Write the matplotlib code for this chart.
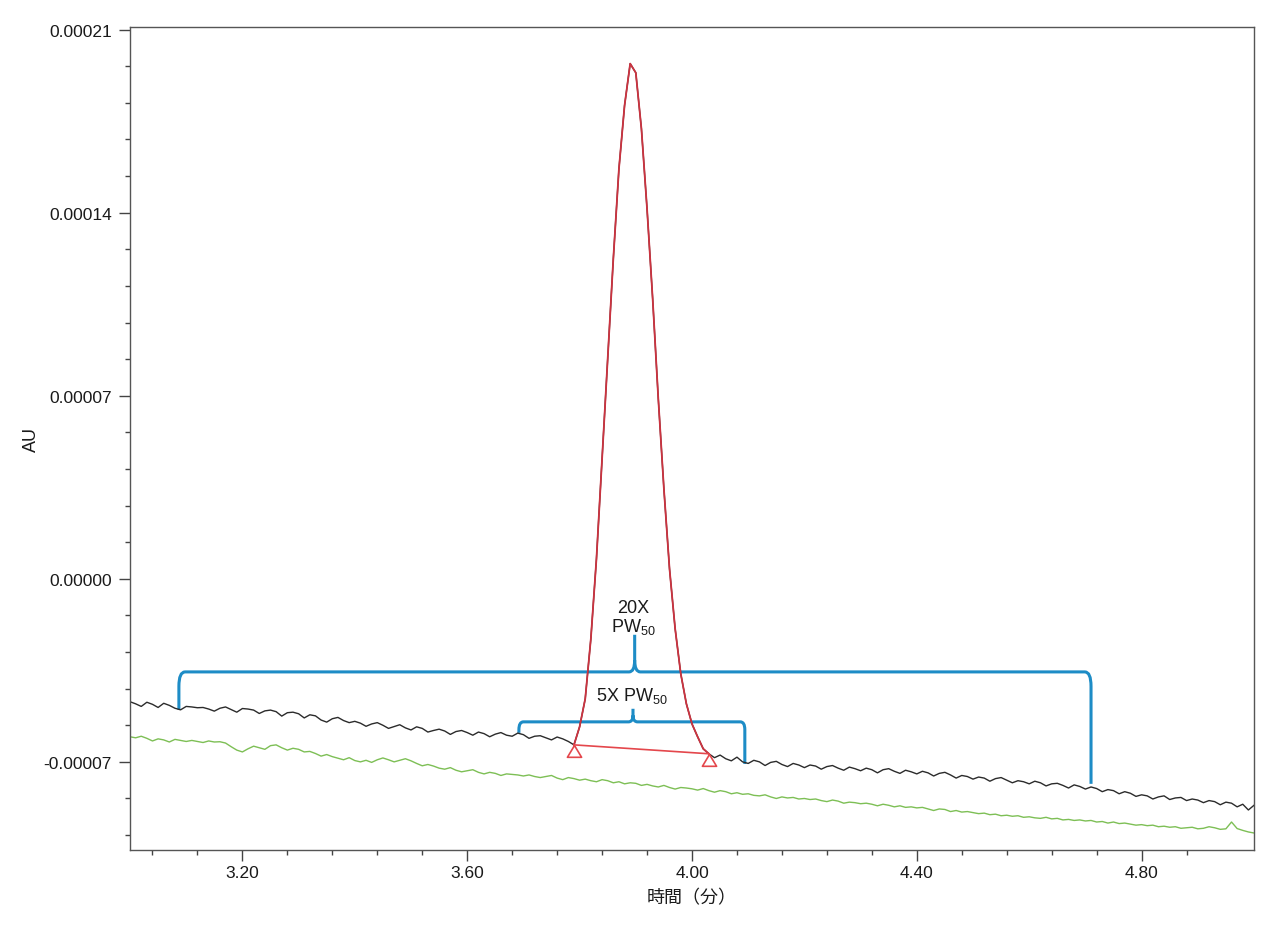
import numpy as np
import matplotlib
matplotlib.use("Agg")
import matplotlib.pyplot as plt
from matplotlib.path import Path
from matplotlib.patches import PathPatch
from matplotlib.ticker import MultipleLocator, FixedLocator, FormatStrFormatter

plt.rcParams['font.family'] = ['Liberation Sans', 'Noto Sans CJK JP', 'DejaVu Sans']
plt.rcParams['mathtext.fontset'] = 'custom'
plt.rcParams['mathtext.rm'] = 'Liberation Sans'
plt.rcParams['axes.unicode_minus'] = False

# Tiempo (min), muestreo cada 0.01 min de 3.00 a 5.00
tiempo = np.round(np.arange(201) * 0.01 + 3.00, 2)

# Señal de la muestra (unidades de 1e-5 AU); incluye el pico entre 3.79 y 4.03
muestra = [
    -4.70, -4.78, -4.88, -4.72, -4.80, -4.92, -4.76, -4.84, -4.95, -5.01,
    -4.88, -4.90, -4.93, -4.92, -4.98, -5.06, -4.95, -4.90, -5.00, -5.10,
    -4.96, -4.98, -5.02, -5.15, -5.05, -5.02, -5.08, -5.25, -5.12, -5.10,
    -5.16, -5.32, -5.20, -5.24, -5.40, -5.48, -5.35, -5.30, -5.42, -5.50,
    -5.45, -5.52, -5.64, -5.55, -5.50, -5.60, -5.72, -5.65, -5.58, -5.70,
    -5.78, -5.66, -5.72, -5.86, -5.80, -5.75, -5.82, -5.95, -5.84, -5.80,
    -5.88, -5.98, -5.86, -5.92, -6.04, -5.94, -5.88, -5.98, -6.02, -5.90,
    -5.96, -6.10, -6.02, -6.00, -6.08, -6.16, -6.05, -6.12, -6.22,
    -6.35, -5.66, -4.59, -2.30, 0.77, 4.59, 8.42, 12.24, 15.68, 18.10,
    19.70, 19.35, 17.21, 14.15, 10.71, 6.89, 3.44, 0.38, -1.91, -3.63,
    -4.78, -5.55, -6.04, -6.50, -6.69,
    -6.84, -6.74, -6.88, -6.96, -6.82, -7.00,
    -7.06, -6.94, -7.00, -7.14, -7.02, -6.98, -7.10, -7.18, -7.06, -7.12,
    -7.22, -7.12, -7.16, -7.28, -7.18, -7.14, -7.24, -7.32, -7.20, -7.26,
    -7.34, -7.24, -7.30, -7.42, -7.30, -7.26, -7.36, -7.44, -7.32, -7.38,
    -7.46, -7.36, -7.42, -7.54, -7.44, -7.40, -7.50, -7.62, -7.52, -7.56,
    -7.66, -7.58, -7.62, -7.74, -7.64, -7.60, -7.70, -7.80, -7.72, -7.76,
    -7.84, -7.74, -7.80, -7.92, -7.84, -7.82, -7.90, -8.00, -7.88, -7.94,
    -8.04, -7.96, -8.02, -8.14, -8.06, -8.10, -8.22, -8.14, -8.20, -8.32,
    -8.26, -8.30, -8.42, -8.34, -8.30, -8.44, -8.38, -8.36, -8.48, -8.42,
    -8.46, -8.56, -8.48, -8.52, -8.64, -8.54, -8.58, -8.72, -8.62, -8.84, -8.66,
]

# Blanco (unidades de 1e-5 AU)
blanco = [
    -6.04, -6.08, -6.02, -6.10, -6.20, -6.12, -6.16, -6.24, -6.14, -6.18,
    -6.22, -6.18, -6.22, -6.26, -6.20, -6.24, -6.23, -6.28, -6.42, -6.55,
    -6.62, -6.50, -6.40, -6.46, -6.52, -6.38, -6.35, -6.46, -6.55, -6.48,
    -6.52, -6.62, -6.60, -6.68, -6.78, -6.72, -6.80, -6.86, -6.92, -6.84,
    -6.95, -7.00, -6.94, -7.02, -6.92, -6.85, -6.92, -7.00, -6.94, -6.88,
    -6.96, -7.06, -7.15, -7.10, -7.16, -7.24, -7.28, -7.22, -7.32, -7.38,
    -7.34, -7.30, -7.40, -7.46, -7.40, -7.44, -7.52, -7.46, -7.48, -7.50,
    -7.54, -7.50, -7.56, -7.60, -7.56, -7.52, -7.62, -7.68, -7.60, -7.64,
    -7.70, -7.66, -7.72, -7.76, -7.68, -7.72, -7.80, -7.76, -7.84, -7.80,
    -7.82, -7.90, -7.86, -7.92, -7.96, -7.90, -7.98, -8.04, -7.98, -8.00,
    -8.03, -8.08, -8.02, -8.10, -8.16, -8.10, -8.14, -8.22, -8.18, -8.24,
    -8.22, -8.28, -8.30, -8.26, -8.34, -8.40, -8.34, -8.38, -8.36, -8.42,
    -8.40, -8.44, -8.42, -8.48, -8.52, -8.46, -8.50, -8.58, -8.54, -8.56,
    -8.60, -8.58, -8.62, -8.68, -8.62, -8.66, -8.72, -8.68, -8.74, -8.72,
    -8.76, -8.74, -8.80, -8.86, -8.80, -8.82, -8.90, -8.86, -8.92, -8.90,
    -8.94, -8.98, -8.96, -9.02, -9.00, -9.06, -9.04, -9.08, -9.06, -9.12,
    -9.10, -9.14, -9.16, -9.12, -9.18, -9.16, -9.22, -9.20, -9.24, -9.22,
    -9.26, -9.24, -9.30, -9.28, -9.34, -9.30, -9.36, -9.34, -9.38, -9.42,
    -9.40, -9.44, -9.42, -9.48, -9.46, -9.50, -9.48, -9.54, -9.52, -9.50,
    -9.56, -9.54, -9.48, -9.52, -9.58, -9.56, -9.30, -9.55, -9.62, -9.68, -9.72,
]

# Integración del pico: índices de inicio y fin
ini_pico, fin_pico = 79, 103

# Corchetes: (x0, x1, x centro, y nivel, y pata izq, y pata der, y punta) en min / 1e-5 AU
corchete_20x = (3.087, 4.710, 3.898, -3.56, -5.01, -7.84, -2.14)
corchete_5x = (3.692, 4.094, 3.895, -5.47, -5.89, -7.08, -4.97)

escala = 1e-5
muestra = np.array(muestra) * escala
blanco = np.array(blanco) * escala

fig = plt.figure(figsize=(12.8, 9.29), dpi=100)
ax = fig.add_axes([130 / 1280, 1 - 851 / 929, 1124 / 1280, 823 / 929])

ax.plot(tiempo, blanco, color='#7dbf55', lw=1.0)
ax.plot(tiempo, muestra, color='#2b2b2b', lw=1.0)
ax.plot(tiempo[ini_pico:fin_pico + 1], muestra[ini_pico:fin_pico + 1], color='#cc3340', lw=1.3)

# Línea base del pico con marcadores triangulares
tri = [(0, 0), (-0.6, -1), (0.6, -1), (0, 0)]
xb = [tiempo[ini_pico], tiempo[fin_pico]]
yb = [muestra[ini_pico], muestra[fin_pico]]
ax.plot(xb, yb, color='#e4474c', lw=1.2)
ax.plot(xb, yb, ls='none', marker=tri, ms=17, mfc='none', mec='#e4474c', mew=1.2)


def dibujar_corchete(c, dx, dy, dxm, dym, color='#1d8cc6'):
    x0, x1, xm, y, yl, yr, ytip = c
    y, yl, yr, ytip = y * escala, yl * escala, yr * escala, ytip * escala
    dy, dym = dy * escala, dym * escala
    verts = [(x0, yl), (x0, y - dy), (x0, y), (x0 + dx, y),
             (xm - dxm, y), (xm, y), (xm, y + dym), (xm, ytip),
             (xm, y + dym), (xm, y), (xm + dxm, y),
             (x1 - dx, y), (x1, y), (x1, y - dy), (x1, yr)]
    codes = [Path.MOVETO, Path.LINETO, Path.CURVE3, Path.CURVE3,
             Path.LINETO, Path.CURVE3, Path.CURVE3, Path.LINETO,
             Path.MOVETO, Path.CURVE3, Path.CURVE3,
             Path.LINETO, Path.CURVE3, Path.CURVE3, Path.LINETO]
    ax.add_patch(PathPatch(Path(verts, codes), fill=False, ec=color, lw=2.2,
                           capstyle='butt', joinstyle='round'))


dibujar_corchete(corchete_20x, 0.011, 0.55, 0.010, 0.45)
dibujar_corchete(corchete_5x, 0.008, 0.30, 0.008, 0.25)

ax.text(3.895, -1.26e-5, '20X', ha='center', va='baseline', fontsize=13, color='#1a1a1a')
ax.text(3.895, -1.99e-5, 'PW$_{50}$', ha='center', va='baseline', fontsize=13, color='#1a1a1a')
ax.text(3.893, -4.63e-5, '5X PW$_{50}$', ha='center', va='baseline', fontsize=13, color='#1a1a1a')

ax.set_xlim(3.0, 5.0)
ax.set_ylim(-0.0001037, 0.000211)

ax.xaxis.set_major_locator(MultipleLocator(0.4))
ax.xaxis.set_minor_locator(FixedLocator(np.round(np.arange(3.04, 4.89, 0.08), 2)))
ax.xaxis.set_major_formatter(FormatStrFormatter('%.2f'))
ax.yaxis.set_major_locator(MultipleLocator(0.00007))
ax.yaxis.set_minor_locator(MultipleLocator(0.000014))
ax.yaxis.set_major_formatter(FormatStrFormatter('%.5f'))

ax.tick_params(which='major', length=8, width=1, colors='#444444', labelcolor='#1a1a1a',
               labelsize=12.5)
ax.tick_params(which='minor', length=3.6, width=1, colors='#444444')
ax.tick_params(axis='y', which='major', pad=5)
ax.tick_params(axis='x', which='major', pad=3)
for s in ax.spines.values():
    s.set_color('#555555')
    s.set_linewidth(1)

ax.set_xlabel('時間（分）', fontsize=13, color='#1a1a1a', labelpad=6)
ax.set_ylabel('AU', fontsize=13, color='#1a1a1a')
ax.yaxis.set_label_coords(-0.080, 0.5)

fig.savefig('out.png', dpi=100)
